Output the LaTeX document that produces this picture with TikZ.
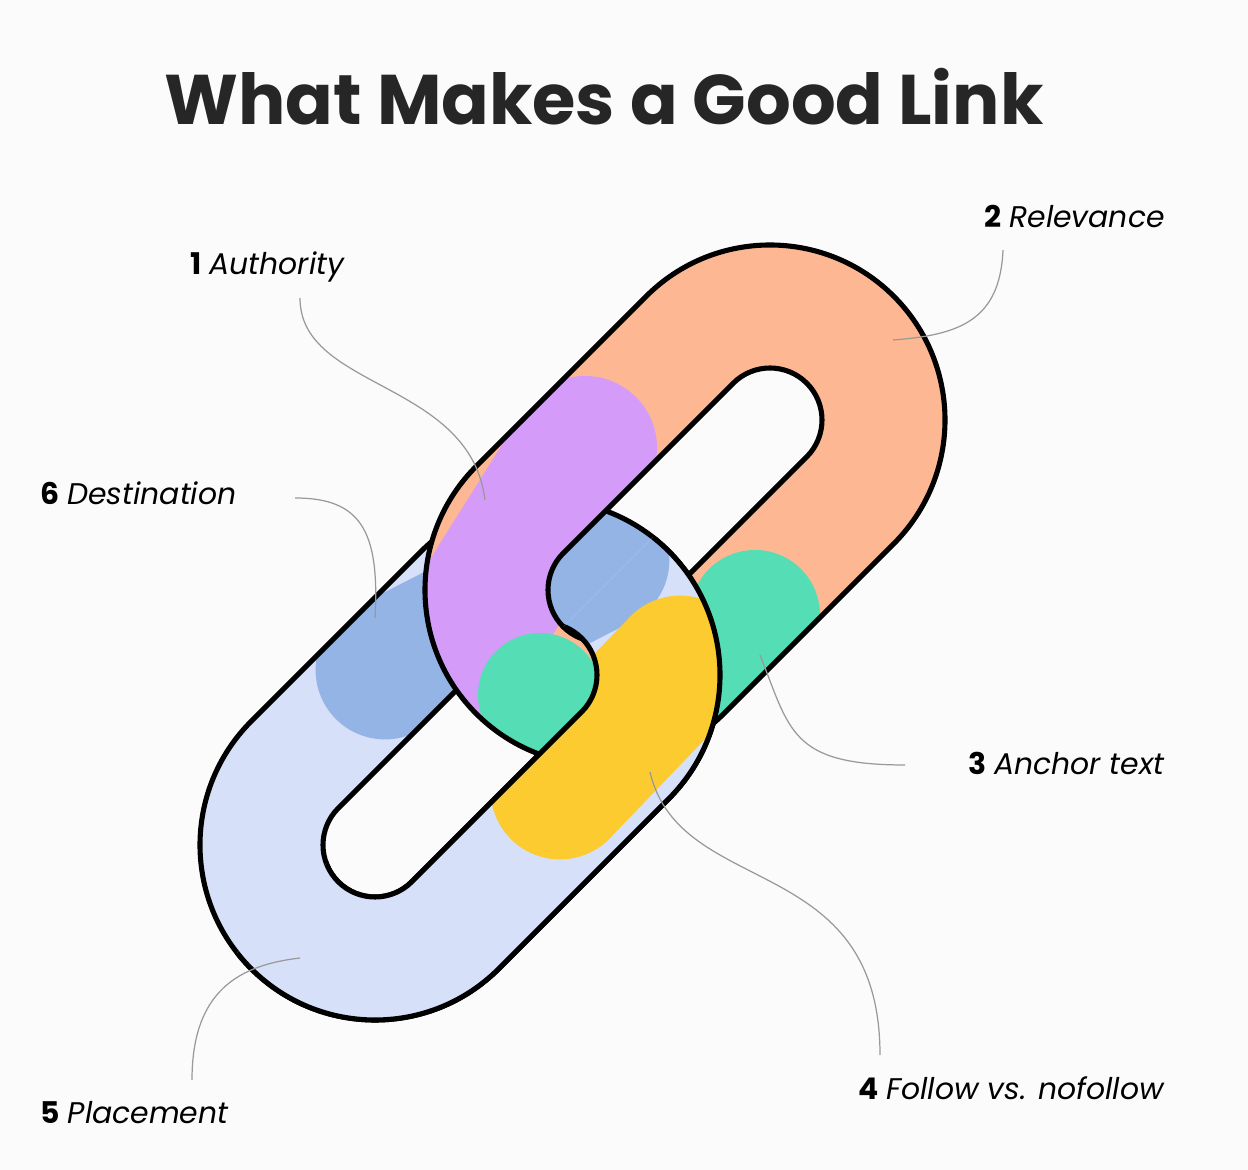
\documentclass[tikz,border=0pt]{standalone}
\usepackage{fontspec}
\setmainfont{Poppins}
\usetikzlibrary{calc}
\definecolor{bg}{HTML}{FBFBFB}
\definecolor{orng}{HTML}{FDB893}
\definecolor{purp}{HTML}{D49CF8}
\definecolor{grn}{HTML}{55DDB5}
\definecolor{lblue}{HTML}{D6E0F8}
\definecolor{mblue}{HTML}{94B4E6}
\definecolor{yel}{HTML}{FCCB2F}
\newcommand\stadpath[5]{($(#1,#2)+(135:#5)$) -- ($(#3,#4)+(135:#5)$) arc[start angle=135,end angle=-45,radius=#5] -- ($(#1,#2)+(-45:#5)$) arc[start angle=-45,end angle=-225,radius=#5] -- cycle}
\newcommand\upperlink{%
  \fill[orng,even odd rule] \stadpath{600}{580}{770}{750}{175} \stadpath{600}{580}{770}{750}{52};
  \begin{scope}[even odd rule]
    \clip \stadpath{600}{580}{770}{750}{175} \stadpath{600}{580}{770}{750}{52};
    \draw[purp,line width=82pt,line cap=round] (455,515) -- (585,722);
    \fill[grn] (540,475) circle[radius=62];
    \draw[grn,line width=74pt,line cap=round] (700,450) -- (755,555);
  \end{scope}
  \draw[ring] \stadpath{600}{580}{770}{750}{175};
  \draw[ring] \stadpath{600}{580}{770}{750}{52};}
\newcommand\lowerlink{%
  \fill[lblue,even odd rule] \stadpath{375}{325}{545}{495}{175} \stadpath{375}{325}{545}{495}{52};
  \begin{scope}[even odd rule]
    \clip \stadpath{375}{325}{545}{495}{175} \stadpath{375}{325}{545}{495}{52};
    \draw[mblue,line width=79pt,line cap=round] (385,500) -- (600,610);
    \draw[yel,line width=79pt,line cap=round] (680,505) -- (560,380);
  \end{scope}
  \draw[ring] \stadpath{375}{325}{545}{495}{175};
  \draw[ring] \stadpath{375}{325}{545}{495}{52};}
\tikzset{ring/.style={black,line width=2.9pt,line join=round},
  lead/.style={gray!80,line width=0.7pt},
  lab/.style={font=\fontsize{17}{20}\selectfont,inner sep=0pt}}
\begin{document}
\begin{tikzpicture}[x=0.02cm,y=0.02cm]
\fill[bg] (0,0) rectangle (1248,1170);
\useasboundingbox (0,0) rectangle (1248,1170);
\node[font=\fontsize{40}{46}\selectfont\bfseries,text=black!85] (title) at (604,1073) {What Makes a Good Link};
\lowerlink
\upperlink
\begin{scope}
  \clip (20,0) -- (1248,1228) -- (1248,0) -- cycle;
  \lowerlink
\end{scope}
\node[lab,anchor=west] (l1) at (190,903) {\textbf{1} \textit{Authority}};
\node[lab,anchor=east] (l2) at (1165,953) {\textbf{2} \textit{Relevance}};
\node[lab,anchor=west] (l6) at (40,677) {\textbf{6} \textit{Destination}};
\node[lab,anchor=east] (l3) at (1165,407) {\textbf{3} \textit{Anchor text}};
\node[lab,anchor=east] (l4) at (1165,82) {\textbf{4} \textit{Follow vs. nofollow}};
\node[lab,anchor=west] (l5) at (40,57) {\textbf{5} \textit{Placement}};
\coordinate (e1) at (485,670);
\coordinate (e2) at (893,830);
\coordinate (e6) at (375,552);
\coordinate (e3) at (760,515);
\coordinate (e4) at (650,398);
\coordinate (e5) at (300,212);
\draw[lead] (300,872) .. controls (300,780) and (470,790) .. (e1);
\draw[lead] (1003,920) .. controls (1000,850) and (960,835) .. (e2);
\draw[lead] (295,672) .. controls (360,672) and (380,640) .. (e6);
\draw[lead] (905,405) .. controls (790,405) and (790,440) .. (e3);
\draw[lead] (880,115) .. controls (880,320) and (680,270) .. (e4);
\draw[lead] (192,90) .. controls (192,180) and (240,205) .. (e5);
\end{tikzpicture}
\end{document}
